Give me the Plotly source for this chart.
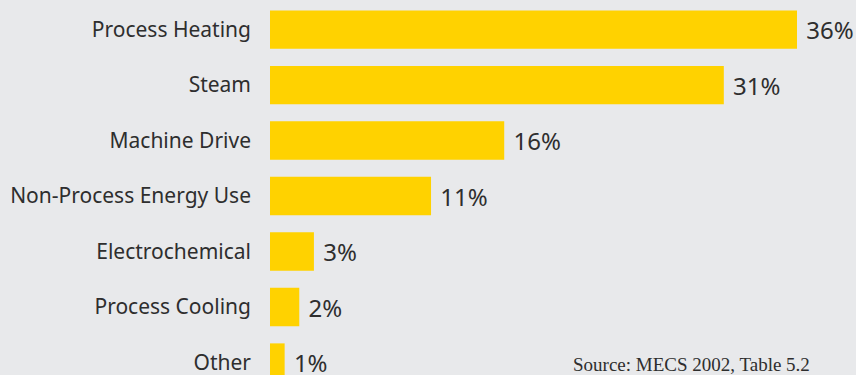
import plotly.graph_objects as go

categories = ["Process Heating", "Steam", "Machine Drive", "Non-Process Energy Use",
              "Electrochemical", "Process Cooling", "Other"]
values = [36, 31, 16, 11, 3, 2, 1]
value_labels = ["36%", "31%", "16%", "11%", "3%", "2%", "1%"]
source_text = "Source: MECS 2002, Table 5.2"

BG = "#e8e9eb"
BAR = "#ffd200"
TXT = "#2e2e2e"

fig = go.Figure(go.Bar(
    x=values, y=categories, orientation="h",
    marker=dict(color=BAR, line=dict(width=0)),
    width=0.69,
    text=[" " + t for t in value_labels], textposition="outside",
    textfont=dict(family="Noto Sans", size=24, color=TXT),
    cliponaxis=False,
))

fig.update_layout(
    width=856, height=375,
    margin=dict(l=270, r=0, t=0, b=0),
    paper_bgcolor=BG, plot_bgcolor=BG,
    showlegend=False,
    xaxis=dict(range=[0, 40.03], visible=False, showgrid=False, zeroline=False),
    yaxis=dict(categoryorder="array", categoryarray=categories,
               range=[6.225, -0.532], showgrid=False, zeroline=False,
               showline=False, ticks="", ticklabelstandoff=18,
               tickfont=dict(family="Noto Sans", size=21, color=TXT)),
    annotations=[dict(text=source_text, xref="paper", yref="paper",
                      x=0.925, y=-0.005, xanchor="right", yanchor="bottom",
                      showarrow=False,
                      font=dict(family="Liberation Serif", size=19, color=TXT))],
)

fig.write_html("out.html")
